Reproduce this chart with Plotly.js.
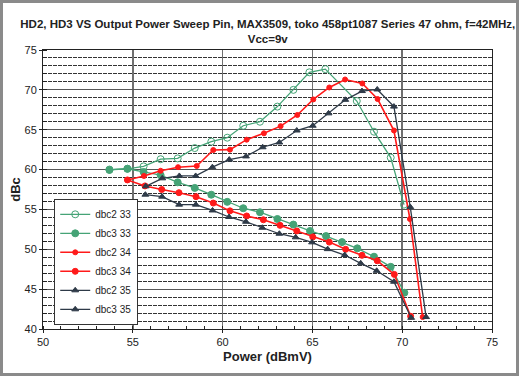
<!DOCTYPE html>
<html>
<head>
<meta charset="utf-8">
<script src="https://cdn.plot.ly/plotly-3.0.1.min.js"></script>
<style>
html,body{margin:0;padding:0;background:#fff;}
#wrap{position:relative;width:519px;height:376px;}
#chart{width:519px;height:376px;}
#frame{position:absolute;left:0;top:0;width:519px;height:376px;box-sizing:border-box;border:3px solid #8a8a8a;pointer-events:none;}
</style>
</head>
<body>
<div id="wrap"><div id="chart"></div><div id="frame"></div></div>
<script>
const dbc2_33_x = [53.7, 54.7, 55.6, 56.55, 57.5, 58.45, 59.37, 60.26, 61.15, 62.08, 63.05, 63.94, 64.83, 65.72, 67.47, 68.43, 69.36, 70.1];
const dbc2_33_y = [60.0, 60.1, 60.4, 61.3, 61.4, 62.7, 63.5, 64.0, 65.5, 66.0, 67.9, 70.0, 72.2, 72.6, 68.6, 64.75, 61.5, 55.6];

const dbc3_33_x = [53.7, 54.7, 55.6, 56.55, 57.5, 58.45, 59.37, 60.26, 61.15, 62.08, 63.05, 63.94, 64.87, 65.76, 66.65, 67.5, 68.43, 69.36, 70.12];
const dbc3_33_y = [59.95, 60.1, 59.7, 59.3, 58.4, 57.7, 56.85, 55.95, 55.15, 54.65, 53.8, 53.1, 52.3, 51.66, 50.9, 50.12, 49.07, 47.8, 44.55];

const dbc2_34_x = [54.7, 55.62, 56.55, 57.52, 58.56, 59.48, 60.41, 61.34, 62.3, 63.23, 64.16, 65.05, 65.94, 66.82, 67.78, 68.63, 69.54, 70.43, 71.14];
const dbc2_34_y = [58.7, 59.2, 59.85, 60.3, 60.45, 62.45, 62.5, 63.75, 64.55, 65.45, 66.85, 68.8, 70.3, 71.3, 70.8, 68.85, 64.9, 53.8, 41.5];

const dbc3_34_x = [54.7, 55.68, 56.61, 57.57, 58.52, 59.48, 60.41, 61.34, 62.27, 63.2, 64.13, 65.02, 65.94, 66.85, 67.76, 68.61, 69.56, 70.47];
const dbc3_34_y = [58.7, 57.95, 57.5, 57.1, 56.6, 55.8, 54.82, 54.18, 53.7, 53.0, 52.3, 51.55, 50.9, 50.0, 49.24, 48.56, 46.85, 41.6];

const dbc2_35_x = [55.72, 56.64, 57.59, 58.5, 59.43, 60.37, 61.3, 62.23, 63.16, 64.13, 65.02, 65.9, 66.83, 67.76, 68.61, 69.54, 70.45, 71.33];
const dbc2_35_y = [57.9, 58.9, 59.2, 59.2, 60.3, 61.25, 61.65, 62.8, 63.4, 64.9, 65.5, 67.05, 68.75, 69.85, 70.05, 67.9, 55.3, 41.5];

const dbc3_35_x = [55.7, 56.63, 57.58, 58.51, 59.44, 60.36, 61.3, 62.21, 63.16, 64.07, 64.98, 65.85, 66.8, 67.69, 68.58, 69.54, 70.5];
const dbc3_35_y = [56.85, 56.6, 55.6, 55.6, 54.87, 54.05, 53.45, 52.7, 51.95, 51.5, 50.87, 50.02, 49.28, 48.24, 47.3, 45.93, 41.4];

const xTicks = [50, 55, 60, 65, 70, 75];
const yTicks = [40, 45, 50, 55, 60, 65, 70, 75];

const GREEN = '#45a376', RED = '#ff1a1a', DARK = '#2e3a48';

function tr(name, x, y, color, symbol, size, lw){
  return {type:'scatter', mode:'lines+markers', name:name, x:x, y:y,
    line:{color:color, width:lw||1.3},
    marker:{symbol:symbol, size:size, color:color, line:{color:color, width:1}}};
}
const data = [
  tr('dbc2 33', dbc2_33_x, dbc2_33_y, GREEN, 'circle-open', 7),
  tr('dbc3 33', dbc3_33_x, dbc3_33_y, GREEN, 'circle', 7),
  tr('dbc2 34', dbc2_34_x, dbc2_34_y, RED, 'circle', 5, 1.6),
  tr('dbc3 34', dbc3_34_x, dbc3_34_y, RED, 'circle', 6, 1.6),
  tr('dbc2 35', dbc2_35_x, dbc2_35_y, DARK, 'triangle-up', 6),
  tr('dbc3 35', dbc3_35_x, dbc3_35_y, DARK, 'triangle-up', 6)
];

const layout = {
  width:519, height:376,
  margin:{l:43, r:27, t:50, b:47, autoexpand:false},
  paper_bgcolor:'#fff', plot_bgcolor:'#fff',
  font:{family:'Liberation Sans, Arial, sans-serif', size:11, color:'#222'},
  title:{text:'<b>HD2, HD3 VS Output Power Sweep Pin, MAX3509, toko 458pt1087 Series 47 ohm, f=42MHz,<br>Vcc=9v</b>',
    font:{size:11.5, color:'#222'}, x:0.516, xref:'container', xanchor:'center', y:0.925, yref:'container', yanchor:'middle'},
  showlegend:true,
  legend:{x:0.025, y:0.015, xanchor:'left', yanchor:'bottom', bgcolor:'#fff', bordercolor:'#333', borderwidth:1,
    font:{size:10, color:'#222'}, tracegroupgap:0, itemwidth:30},
  xaxis:{range:[50,75], tickmode:'array', tickvals:xTicks, showgrid:true, gridcolor:'#6f6f6f', gridwidth:1.6,
    showline:true, linecolor:'#222', linewidth:1, mirror:true, zeroline:false, automargin:false,
    ticks:'outside', ticklen:3, tickcolor:'#222',
    minor:{dtick:1, tick0:50, ticks:'inside', ticklen:3, tickcolor:'#222', showgrid:false},
    tickfont:{size:11, color:'#222'},
    title:{text:'<b>Power (dBmV)</b>', font:{size:13, color:'#222'}, standoff:4}},
  yaxis:{range:[40,75], tickmode:'array', tickvals:yTicks, showgrid:true, gridcolor:'#555', gridwidth:1,
    showline:true, linecolor:'#222', linewidth:1, mirror:true, zeroline:false, automargin:false,
    ticks:'outside', ticklen:3, tickcolor:'#222', ticklabeloverflow:'allow',
    minor:{dtick:1, tick0:40, ticks:'inside', ticklen:4, tickcolor:'#222', showgrid:true, gridcolor:'#333', gridwidth:1, griddash:'4px,1px'},
    tickfont:{size:11, color:'#222'},
    title:{text:'<b>dBc</b>', font:{size:13, color:'#222'}, standoff:0}}
};
Plotly.newPlot('chart', data, layout, {displayModeBar:false, staticPlot:true});
</script>
</body>
</html>
